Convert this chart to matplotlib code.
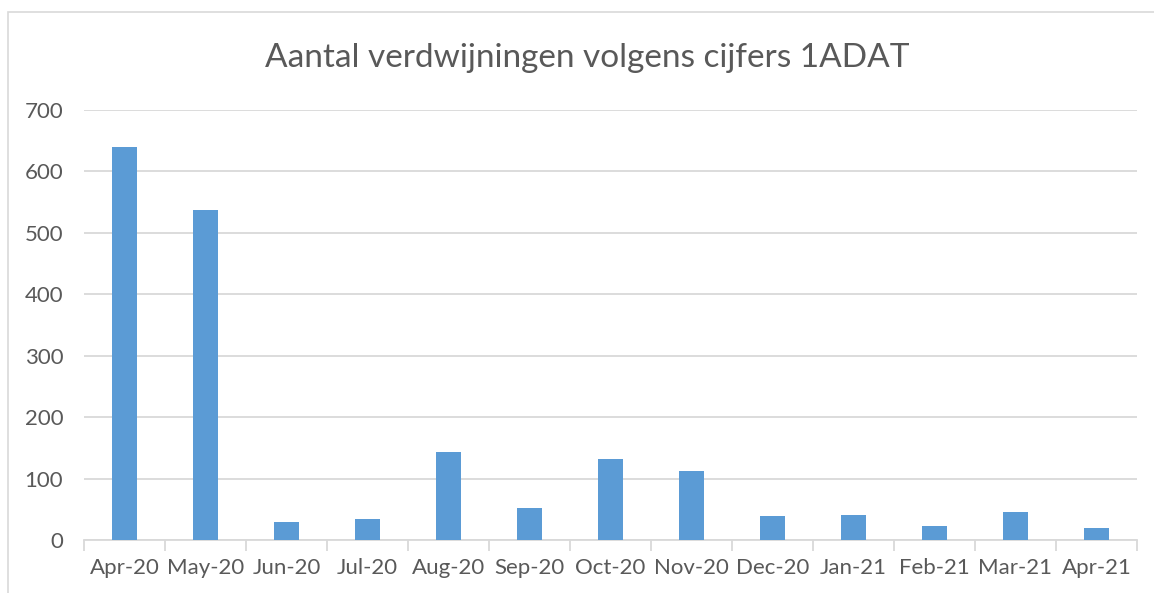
import matplotlib
matplotlib.use("Agg")
import matplotlib.pyplot as plt
import numpy as np
from matplotlib.patches import Rectangle

months = ["Apr-20", "May-20", "Jun-20", "Jul-20", "Aug-20", "Sep-20", "Oct-20",
          "Nov-20", "Dec-20", "Jan-21", "Feb-21", "Mar-21", "Apr-21"]
counts = [639, 537, 29, 34, 144, 52, 132, 113, 39, 40, 23, 46, 19]
yticks = [0, 100, 200, 300, 400, 500, 600, 700]

plt.rcParams['font.family'] = ['Lato', 'DejaVu Sans']
text_col = "#595959"
grid_col = "#D9D9D9"

W, H = 1154, 593
fig = plt.figure(figsize=(W / 100, H / 100), dpi=100)

# light chart border
fig.patches.append(Rectangle((8 / W, -0.1), 1.2, 1 - 12 / H + 0.1, transform=fig.transFigure,
                             fill=False, edgecolor=grid_col, linewidth=1.2))

ax = fig.add_axes([84 / W, 1 - 540 / H, (1137 - 84) / W, (540 - 110) / H])
x = np.arange(len(months))
ax.bar(x, counts, width=0.313, color="#5B9BD5", zorder=3)

ax.set_xlim(-0.5, len(months) - 0.5)
ax.set_ylim(0, 700)
ax.set_yticks(yticks)
ax.yaxis.grid(True, color=grid_col, linewidth=1.3, zorder=0)
ax.set_xticks(x)
ax.set_xticklabels(months)
ax.set_xticks(np.arange(len(months) + 1) - 0.5, minor=True)
ax.tick_params(axis="x", which="major", length=0, pad=13, labelsize=16, labelcolor=text_col)
ax.tick_params(axis="x", which="minor", length=8, color=grid_col, width=1.3)
ax.tick_params(axis="y", length=0, pad=15, labelsize=16, labelcolor=text_col)
for s in ["top", "right", "left"]:
    ax.spines[s].set_visible(False)
ax.spines["bottom"].set_color(grid_col)
ax.spines["bottom"].set_linewidth(1.3)

fig.text(587 / W, 1 - 58 / H, "Aantal verdwijningen volgens cijfers 1ADAT",
         ha="center", va="center", fontsize=24, color=text_col)

fig.savefig("out.png", dpi=100)
